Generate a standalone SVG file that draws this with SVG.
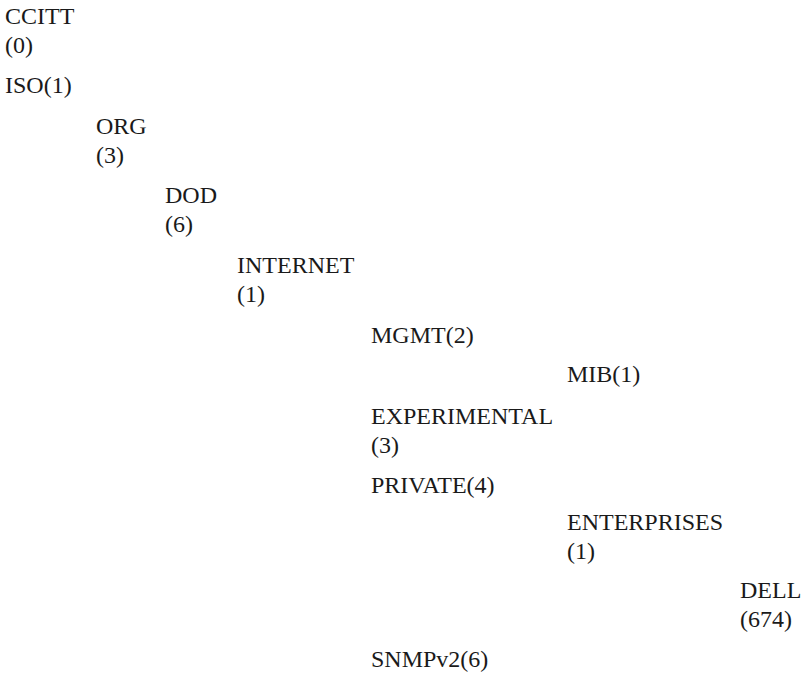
<svg xmlns="http://www.w3.org/2000/svg" width="808" height="677" viewBox="0 0 808 677">
<rect width="808" height="677" fill="#ffffff"/>
<g id="connectors"></g>
<g font-family="Liberation Serif, DejaVu Serif, serif" font-size="24" fill="#1a1a1a">
<g id="ccitt"><text x="5" y="24">CCITT</text><text x="5" y="53">(0)</text></g>
<g id="iso"><text x="5" y="93">ISO(1)</text></g>
<g id="org"><text x="96" y="134">ORG</text><text x="96" y="163">(3)</text></g>
<g id="dod"><text x="165" y="203">DOD</text><text x="165" y="232">(6)</text></g>
<g id="internet"><text x="237" y="273">INTERNET</text><text x="237" y="302">(1)</text></g>
<g id="mgmt"><text x="371" y="343">MGMT(2)</text></g>
<g id="mib"><text x="567" y="382">MIB(1)</text></g>
<g id="experimental"><text x="371" y="424">EXPERIMENTAL</text><text x="371" y="453">(3)</text></g>
<g id="private"><text x="371" y="493">PRIVATE(4)</text></g>
<g id="enterprises"><text x="567" y="530">ENTERPRISES</text><text x="567" y="559">(1)</text></g>
<g id="dell"><text x="740" y="598">DELL</text><text x="740" y="627">(674)</text></g>
<g id="snmpv2"><text x="371" y="667">SNMPv2(6)</text></g>
</g>
</svg>
